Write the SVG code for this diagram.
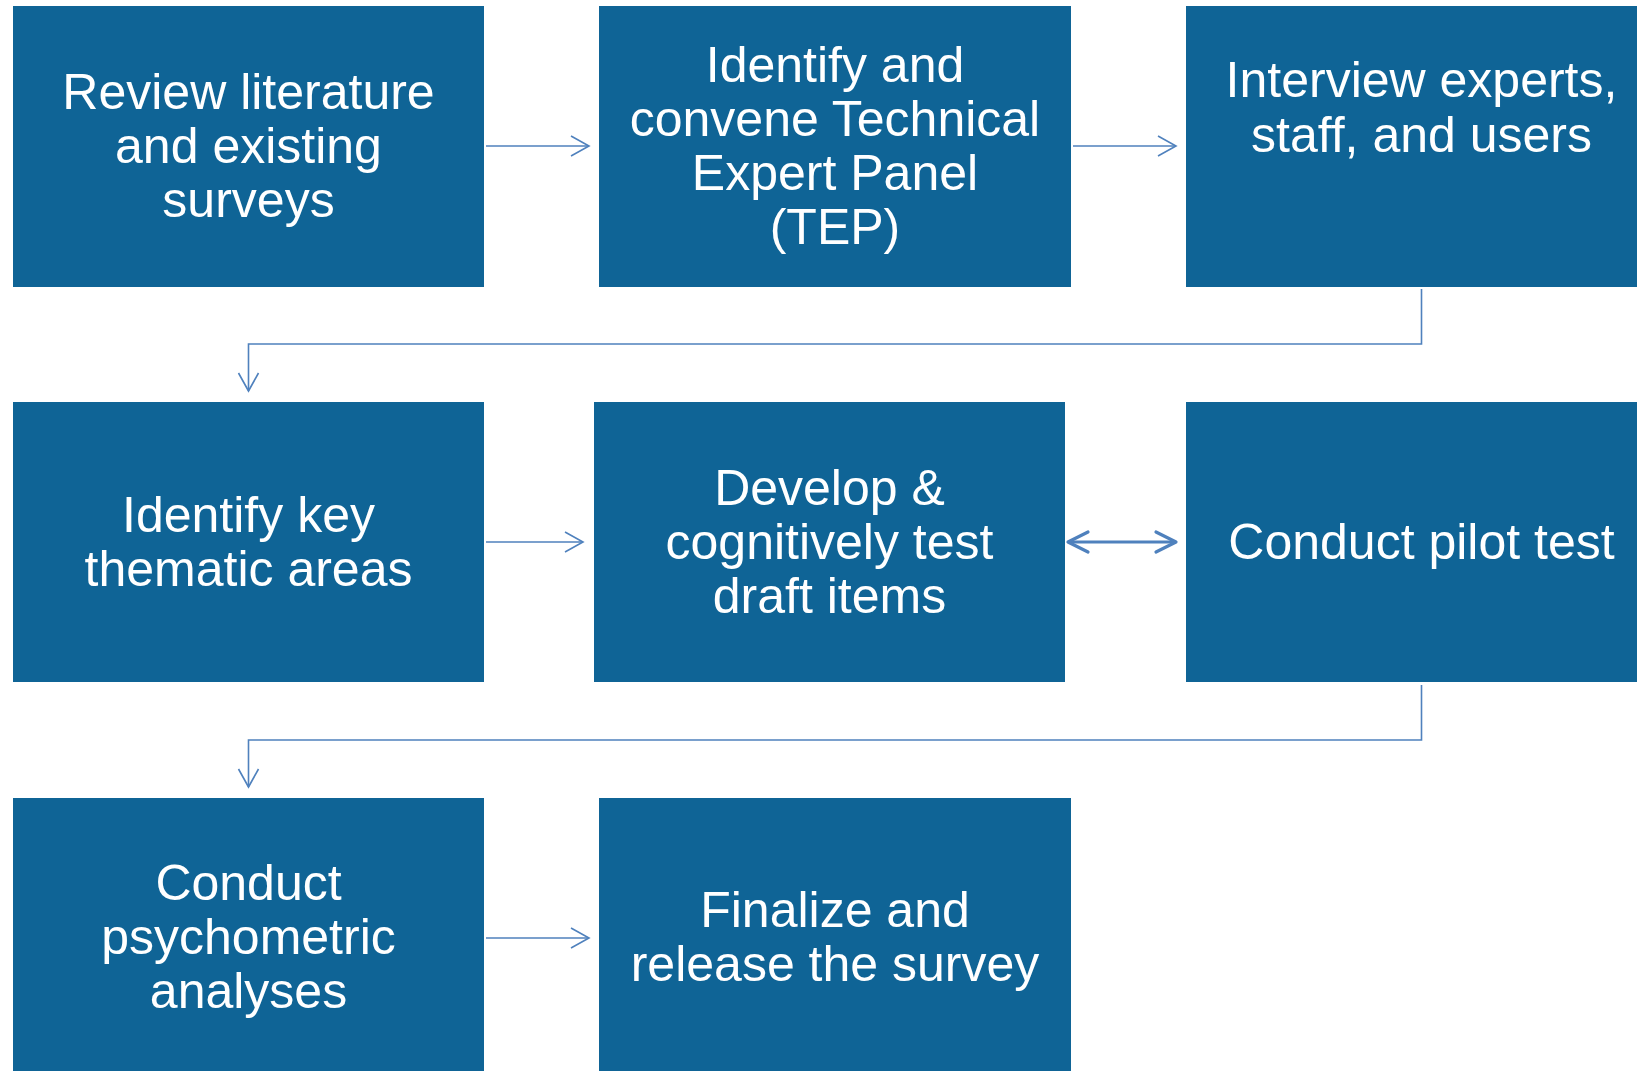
<svg xmlns="http://www.w3.org/2000/svg" width="1637" height="1071" viewBox="0 0 1637 1071">
<style>
.box{fill:#0F6496}
.t{font-family:"Liberation Sans",Arial,sans-serif;font-size:50px;fill:#FFFFFF;text-anchor:middle}
.c{fill:none;stroke:#4F81BD;stroke-width:1.6}
.c2{fill:none;stroke:#4F81BD;stroke-width:3.2}
</style>
<defs>
<marker id="ah" markerUnits="userSpaceOnUse" markerWidth="24" markerHeight="24" viewBox="-2 -2 24 24" refX="18" refY="10" orient="auto">
<path d="M0,0 L18,10 L0,20" fill="none" stroke="#4F81BD" stroke-width="1.6"/>
</marker>
<marker id="ah2" markerUnits="userSpaceOnUse" markerWidth="28" markerHeight="28" viewBox="-3 -3 28 28" refX="20" refY="10" orient="auto-start-reverse">
<path d="M0,0 L20,10 L0,20" fill="none" stroke="#4F81BD" stroke-width="3.2" stroke-linecap="round" stroke-linejoin="round"/>
</marker>
</defs>
<rect width="1637" height="1071" fill="#FFFFFF"/>
<g id="n1"><rect class="box" x="13" y="6" width="471" height="281"/>
<text class="t" x="248.5" y="109">Review literature</text>
<text class="t" x="248.5" y="163">and existing</text>
<text class="t" x="248.5" y="217">surveys</text></g>
<g id="n2"><rect class="box" x="599" y="6" width="472" height="281"/>
<text class="t" x="835" y="82">Identify and</text>
<text class="t" x="835" y="136">convene Technical</text>
<text class="t" x="835" y="190">Expert Panel</text>
<text class="t" x="835" y="244">(TEP)</text></g>
<g id="n3"><rect class="box" x="1186" y="6" width="471" height="281"/>
<text class="t" x="1421.5" y="97">Interview experts,</text>
<text class="t" x="1421.5" y="152">staff, and users</text></g>
<g id="n4"><rect class="box" x="13" y="402" width="471" height="280"/>
<text class="t" x="248.5" y="532">Identify key</text>
<text class="t" x="248.5" y="586">thematic areas</text></g>
<g id="n5"><rect class="box" x="594" y="402" width="471" height="280"/>
<text class="t" x="829.5" y="505">Develop &amp;</text>
<text class="t" x="829.5" y="559">cognitively test</text>
<text class="t" x="829.5" y="613">draft items</text></g>
<g id="n6"><rect class="box" x="1186" y="402" width="471" height="280"/>
<text class="t" x="1421.5" y="559">Conduct pilot test</text></g>
<g id="n7"><rect class="box" x="13" y="798" width="471" height="280"/>
<text class="t" x="248.5" y="900">Conduct</text>
<text class="t" x="248.5" y="954">psychometric</text>
<text class="t" x="248.5" y="1008">analyses</text></g>
<g id="n8"><rect class="box" x="599" y="798" width="472" height="280"/>
<text class="t" x="835" y="927">Finalize and</text>
<text class="t" x="835" y="981">release the survey</text></g>
<g id="connectors">
<line class="c" x1="486" y1="146" x2="589" y2="146" marker-end="url(#ah)"/>
<line class="c" x1="1073" y1="146" x2="1176" y2="146" marker-end="url(#ah)"/>
<polyline class="c" points="1421.5,289 1421.5,344 248.5,344 248.5,391" marker-end="url(#ah)"/>
<line class="c" x1="486" y1="542" x2="583" y2="542" marker-end="url(#ah)"/>
<line class="c2" x1="1068" y1="542" x2="1176" y2="542" marker-start="url(#ah2)" marker-end="url(#ah2)"/>
<polyline class="c" points="1421.5,685 1421.5,740 248.5,740 248.5,787" marker-end="url(#ah)"/>
<line class="c" x1="486" y1="938" x2="589" y2="938" marker-end="url(#ah)"/>
</g>
</svg>
